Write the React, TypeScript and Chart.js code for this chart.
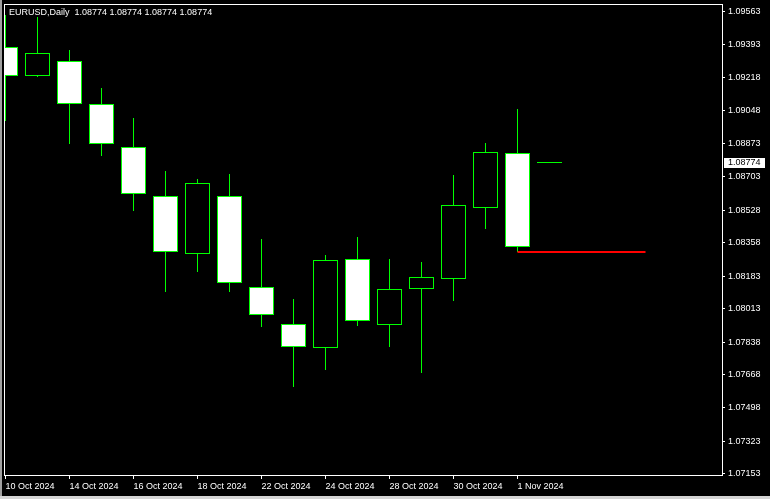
import React, { useEffect, useRef } from 'react';
import { Chart, registerables } from 'chart.js';

Chart.register(...registerables);

const headerText = 'EURUSD,Daily  1.08774 1.08774 1.08774 1.08774';

const dates = [
  '10 Oct 2024', '11 Oct 2024', '14 Oct 2024', '15 Oct 2024', '16 Oct 2024', '17 Oct 2024',
  '18 Oct 2024', '21 Oct 2024', '22 Oct 2024', '23 Oct 2024', '24 Oct 2024', '25 Oct 2024',
  '28 Oct 2024', '29 Oct 2024', '30 Oct 2024', '31 Oct 2024', '1 Nov 2024', '4 Nov 2024',
];

const opens = [1.09377, 1.09226, 1.09304, 1.0908, 1.08857, 1.086, 1.08298, 1.086, 1.08125, 1.07932, 1.07807, 1.08271, 1.07927, 1.08115, 1.08167, 1.08537, 1.08824, 1.08774];
const highs = [1.09546, 1.09534, 1.09363, 1.09165, 1.09009, 1.08732, 1.0869, 1.08716, 1.08377, 1.08064, 1.08294, 1.08388, 1.08273, 1.08257, 1.08711, 1.08878, 1.09055, 1.08774];
const lows = [1.08994, 1.09224, 1.08874, 1.08812, 1.08525, 1.08102, 1.08207, 1.08102, 1.0792, 1.07607, 1.07696, 1.07925, 1.07816, 1.0768, 1.08055, 1.08431, 1.08311, 1.08774];
const closes = [1.09226, 1.09346, 1.0908, 1.08874, 1.08611, 1.08308, 1.08668, 1.08146, 1.07979, 1.07812, 1.08266, 1.07948, 1.08115, 1.08178, 1.08553, 1.0883, 1.08334, 1.08774];

const xTickIndices = [0, 2, 4, 6, 8, 10, 12, 14, 16];
const yTickValues = [1.09563, 1.09393, 1.09218, 1.09048, 1.08873, 1.08703, 1.08528, 1.08358, 1.08183, 1.08013, 1.07838, 1.07668, 1.07498, 1.07323, 1.07153];

const levelStart = 16;
const levelEnd = 20;
const levelPrice = 1.0831;

const yMin = 1.07141;
const yMax = 1.09603;
const xMin = -0.046875;
const xMax = 22.390625;

const FONT = "'Liberation Sans', Arial, sans-serif";

const mtPlugin = {
  id: 'mtDecor',
  beforeDraw(chart: any) {
    const ctx = chart.ctx;
    ctx.save();
    ctx.fillStyle = '#000000';
    ctx.fillRect(0, 0, chart.width, chart.height);
    ctx.fillStyle = '#a0a0a0';
    ctx.fillRect(0, 0, 2, chart.height);
    ctx.fillStyle = '#d4d4d4';
    ctx.fillRect(0, chart.height - 3, chart.width, 3);
    ctx.restore();
  },
  beforeDatasetsDraw(chart: any) {
    // snap candle bodies and wicks (positioned by the scales) to whole pixels
    chart.data.datasets.forEach((ds: any, di: number) => {
      if (ds.type !== 'bar') return;
      const meta = chart.getDatasetMeta(di);
      meta.data.forEach((el: any) => {
        el.x = Math.floor(el.x) + 0.5;
        if (el.base === el.y) return;
        el.y = Math.round(el.y);
        el.base = Math.round(el.base);
      });
    });
  },
  afterDatasetsDraw(chart: any) {
    const ctx = chart.ctx;
    const a = chart.chartArea;
    ctx.save();
    ctx.strokeStyle = '#ffffff';
    ctx.lineWidth = 1;
    ctx.strokeRect(Math.round(a.left) + 0.5, Math.round(a.top) + 0.5, Math.round(a.right - a.left), Math.round(a.bottom - a.top) - 1);
    ctx.restore();
  },
  afterDraw(chart: any) {
    const ctx = chart.ctx;
    const a = chart.chartArea;
    ctx.save();
    ctx.font = `9px ${FONT}`;
    ctx.fillStyle = '#ffffff';
    ctx.textBaseline = 'middle';
    ctx.textAlign = 'left';
    ctx.fillText(headerText, 9, 12.5);
    const last = closes[closes.length - 1];
    const py = Math.round(chart.scales.y.getPixelForValue(last));
    ctx.fillStyle = '#ffffff';
    ctx.fillRect(a.right + 2, py - 5, 41, 10);
    ctx.fillStyle = '#000000';
    ctx.fillText(last.toFixed(5), a.right + 6, py);
    ctx.restore();
  },
};

export default function App() {
  const ref = useRef<HTMLCanvasElement | null>(null);
  useEffect(() => {
    const canvas = ref.current;
    if (!canvas) return;
    const bodyColors = opens.map((o, i) => (closes[i] < o ? '#ffffff' : '#000000'));
    const chart = new Chart(canvas, {
      type: 'bar',
      data: {
        datasets: [
          {
            type: 'line',
            label: 'level',
            data: [
              { x: levelStart, y: levelPrice },
              { x: levelEnd, y: levelPrice },
            ],
            borderColor: '#ff0000',
            borderWidth: 2,
            pointRadius: 0,
            order: 0,
          } as any,
          {
            type: 'bar',
            label: 'body',
            data: dates.map((_, i) => ({ x: i, y: [opens[i], closes[i]] })),
            backgroundColor: bodyColors,
            borderColor: '#00ff00',
            borderWidth: 1,
            borderSkipped: false,
            grouped: false,
            barPercentage: 1,
            categoryPercentage: 1,
            maxBarThickness: 25,
            minBarLength: 1,
            inflateAmount: 0,
            order: 1,
          } as any,
          {
            type: 'bar',
            label: 'wick',
            data: dates.map((_, i) => ({ x: i, y: [lows[i], highs[i]] })),
            backgroundColor: '#00ff00',
            borderWidth: 0,
            grouped: false,
            barPercentage: 1,
            categoryPercentage: 1,
            maxBarThickness: 1,
            inflateAmount: 0,
            order: 2,
          } as any,
        ],
      },
      options: {
        animation: false,
        responsive: false,
        events: [],
        layout: { padding: { left: 4, top: 4, right: 0, bottom: 0 }, autoPadding: false } as any,
        plugins: {
          legend: { display: false },
          tooltip: { enabled: false },
          title: { display: false },
        },
        scales: {
          x: {
            type: 'linear',
            position: 'bottom',
            min: xMin,
            max: xMax,
            bounds: 'data',
            offset: false,
            grid: {
              display: true,
              drawOnChartArea: false,
              drawTicks: true,
              tickLength: 3,
              color: '#ffffff',
              offset: false,
            },
            border: { display: false },
            ticks: {
              color: '#ffffff',
              font: { family: FONT, size: 9 },
              align: 'start',
              maxRotation: 0,
              minRotation: 0,
              autoSkip: false,
              padding: 2,
              callback: (v: any) => dates[Number(v)] ?? '',
            },
            afterBuildTicks: (s: any) => {
              s.ticks = xTickIndices.map((v) => ({ value: v }));
            },
            afterFit: (s: any) => {
              s.height = 23;
              s.paddingLeft = 0;
              s.paddingRight = 0;
            },
          } as any,
          y: {
            type: 'linear',
            position: 'right',
            min: yMin,
            max: yMax,
            bounds: 'data',
            beginAtZero: false,
            grid: {
              display: true,
              drawOnChartArea: false,
              drawTicks: true,
              tickLength: 3,
              color: '#ffffff',
            },
            border: { display: false },
            ticks: {
              color: '#ffffff',
              font: { family: FONT, size: 9 },
              padding: 3,
              autoSkip: false,
              callback: (v: any) => Number(v).toFixed(5),
            },
            afterBuildTicks: (s: any) => {
              s.ticks = yTickValues.map((v) => ({ value: v }));
            },
            afterFit: (s: any) => {
              s.width = 48;
              s.paddingTop = 0;
              s.paddingBottom = 0;
            },
          } as any,
        },
      },
      plugins: [mtPlugin],
    });
    return () => chart.destroy();
  }, []);

  return (
    <div style={{ position: 'fixed', left: 0, top: 0, width: 770, height: 499, background: '#000' }}>
      <canvas ref={ref} width={770} height={499} style={{ display: 'block', width: 770, height: 499 }} />
    </div>
  );
}
